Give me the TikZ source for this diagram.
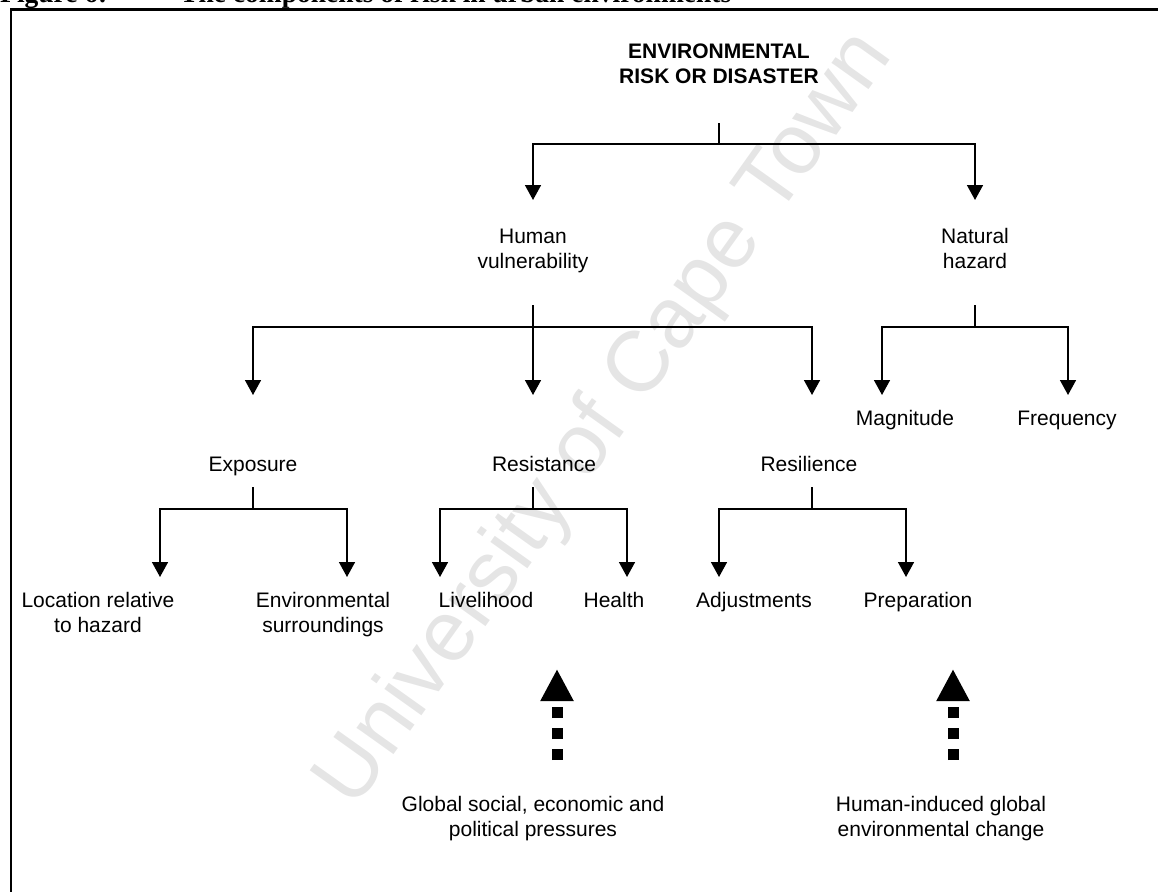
\documentclass[tikz,border=0pt]{standalone}
\usepackage{fontspec}
\setmainfont{Liberation Sans}
\newfontfamily\titleserif{Liberation Serif}
\usetikzlibrary{arrows.meta}
\begin{document}
\begin{tikzpicture}[x=1pt,y=-1pt,
  lbl/.style={inner sep=0pt, align=center, anchor=base, font=\fontsize{21}{24.5}\selectfont},
  rootlbl/.style={lbl, font=\fontsize{21}{24.5}\selectfont\bfseries},
  titlelbl/.style={inner sep=0pt, anchor=base west, font=\titleserif\fontsize{27.5}{27.5}\selectfont\bfseries},
  link/.style={line width=1.6pt},
  arr/.style={link, -{Triangle[width=16pt,length=15pt]}},
  pressure/.style={line width=11pt, dash pattern=on 11pt off 10pt, -{Triangle[width=31pt,length=32pt]}},
  wmark/.style={text=black!10, font=\fontsize{86}{86}\selectfont, rotate=54.5, inner sep=0pt}
]
\useasboundingbox (0,0) rectangle (1158,891);
\clip (0,0) rectangle (1158,891);

% faint watermark behind the chart
\node[wmark] (wm) at (606,420) {University of Cape Town};

% caption above the frame
\node[titlelbl] (cap1) at (0,3) {Figure 6:};
\node[titlelbl] (cap2) at (180,3) {The components of risk in urban environments};

% frame
\draw[line width=1.4pt] (11,900) -- (11,9.5);
\draw[line width=2.4pt] (10.3,9.5) -- (1170,9.5);

% labels (anchored on the baseline of their last line)
\node[rootlbl] (root) at (719,83) {ENVIRONMENTAL\\RISK OR DISASTER};
\node[lbl] (hv) at (533,268) {Human\\vulnerability};
\node[lbl] (nh) at (975,268) {Natural\\hazard};
\node[lbl] (exp) at (253,471) {Exposure};
\node[lbl] (res) at (544,471) {Resistance};
\node[lbl] (sil) at (809,471) {Resilience};
\node[lbl] (mag) at (905,425) {Magnitude};
\node[lbl] (freq) at (1067,425) {Frequency};
\node[lbl] (loc) at (98,632) {Location relative\\to hazard};
\node[lbl] (env) at (323,632) {Environmental\\surroundings};
\node[lbl] (live) at (486,607) {Livelihood};
\node[lbl] (health) at (614,607) {Health};
\node[lbl] (adj) at (754,607) {Adjustments};
\node[lbl] (prep) at (918,607) {Preparation};
\node[lbl] (gsp) at (533,836) {Global social, economic and\\political pressures};
\node[lbl] (hig) at (941,836) {Human-induced global\\environmental change};

% connector points
\coordinate (rootS) at (719,123);  \coordinate (rootJ) at (719,144);
\coordinate (hvT) at (533,200);    \coordinate (nhT) at (975,200);
\coordinate (hvS) at (533,305);    \coordinate (hvJ) at (533,327);
\coordinate (expT) at (253,395);   \coordinate (resT) at (533,395);  \coordinate (silT) at (812,395);
\coordinate (nhS) at (975,305);    \coordinate (nhJ) at (975,327);
\coordinate (magT) at (882,395);   \coordinate (freqT) at (1068,395);
\coordinate (expS) at (253,487);   \coordinate (expJ) at (253,509);
\coordinate (locT) at (160,577);   \coordinate (envT) at (347,577);
\coordinate (resS) at (533,487);   \coordinate (resJ) at (533,509);
\coordinate (liveT) at (440,577);  \coordinate (healthT) at (627,577);
\coordinate (silS) at (812,487);   \coordinate (silJ) at (812,509);
\coordinate (adjT) at (719,577);   \coordinate (prepT) at (906,577);
\coordinate (gspB) at (557,760);   \coordinate (gspT) at (557,669);
\coordinate (higB) at (953,760);   \coordinate (higT) at (953,669);

% tree connectors
\draw[link] (rootS) -- (rootJ);
\draw[arr] (rootJ) -| (hvT);
\draw[arr] (rootJ) -| (nhT);

\draw[link] (hvS) -- (hvJ);
\draw[arr] (hvJ) -| (expT);
\draw[arr] (hvJ) -- (resT);
\draw[arr] (hvJ) -| (silT);

\draw[link] (nhS) -- (nhJ);
\draw[arr] (nhJ) -| (magT);
\draw[arr] (nhJ) -| (freqT);

\draw[link] (expS) -- (expJ);
\draw[arr] (expJ) -| (locT);
\draw[arr] (expJ) -| (envT);

\draw[link] (resS) -- (resJ);
\draw[arr] (resJ) -| (liveT);
\draw[arr] (resJ) -| (healthT);

\draw[link] (silS) -- (silJ);
\draw[arr] (silJ) -| (adjT);
\draw[arr] (silJ) -| (prepT);

% external pressures
\draw[pressure] (gspB) -- (gspT);
\draw[pressure] (higB) -- (higT);
\end{tikzpicture}
\end{document}
